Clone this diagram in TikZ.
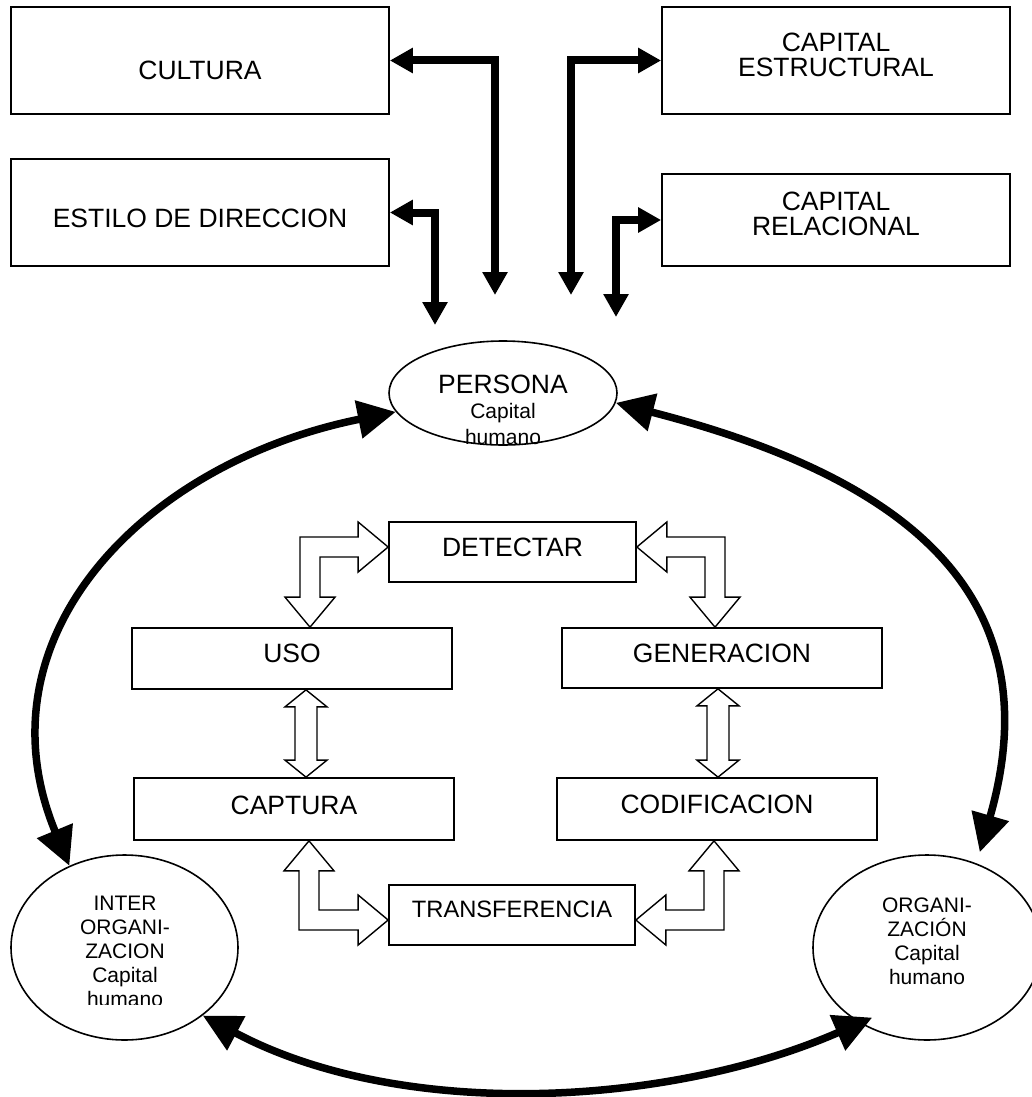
\documentclass[tikz,border=0pt]{standalone}
\usepackage{fontspec}
\setmainfont{Liberation Sans}
\usetikzlibrary{arrows.meta,calc,shapes.geometric}
\begin{document}
\begin{tikzpicture}[x=1pt,y=-1pt,
  box/.style={draw, line width=1.7pt, rectangle, inner sep=0pt, align=center, font=\fontsize{26.5}{25}\selectfont},
  ell/.style={draw, line width=1.6pt, ellipse, inner sep=0pt},
  hollow/.style={draw, fill=white, line width=1.4pt, line join=miter},
  thickarrow/.style={line width=8pt, line join=miter, {Triangle[length=23pt,width=24pt]}-{Triangle[length=23pt,width=24pt]}},
  curvearrow/.style={line width=7.5pt, {Triangle[length=38pt,width=37pt]}-{Triangle[length=38pt,width=37pt]}},
  small/.style={font=\fontsize{21}{24}\selectfont, align=center, inner sep=0pt}
]
\useasboundingbox (0,0) rectangle (1031,1097);
\fill[white] (0,0) rectangle (1031,1097);

% top boxes
\node[box, minimum width=378pt, minimum height=107pt, text height=38pt] (cultura) at (200,60.5) {CULTURA};
\node[box, minimum width=378pt, minimum height=107pt, text height=30pt] (estilo) at (200,212.5) {ESTILO DE DIRECCION};
\node[box, minimum width=348pt, minimum height=107pt, text depth=11pt] (estructural) at (836,60.5) {CAPITAL\\ESTRUCTURAL};
\node[box, minimum width=348pt, minimum height=92pt, text depth=13pt] (relacional) at (836,220) {CAPITAL\\RELACIONAL};

% thick elbow arrows
\coordinate (c1) at (495,295);
\coordinate (c2) at (435,325);
\coordinate (c3) at (571,295);
\coordinate (c4) at (616,317);
\draw[thickarrow] (cultura.east) -| (c1);
\draw[thickarrow] (estilo.east) -| (c2);
\draw[thickarrow] (c3) |- (estructural.west);
\draw[thickarrow] (c4) |- (relacional.west);

% process boxes
\node[box, minimum width=247pt, minimum height=60pt, text depth=10pt] (detectar) at (512.5,552) {DETECTAR};
\node[box, minimum width=320pt, minimum height=61pt, text depth=11pt] (uso) at (292,658.5) {USO};
\node[box, minimum width=320pt, minimum height=60pt, text depth=10pt] (generacion) at (722,658) {GENERACION};
\node[box, minimum width=320pt, minimum height=62pt, text depth=8pt] (captura) at (294,809) {CAPTURA};
\node[box, minimum width=320pt, minimum height=62pt, text depth=10pt] (codificacion) at (717,809) {CODIFICACION};
\node[box, minimum width=246pt, minimum height=60pt, text depth=12pt, font=\fontsize{23.7}{25}\selectfont] (transferencia) at (512,915) {TRANSFERENCIA};

% hollow arrows
\draw[hollow] let \p1=([yshift=5pt]detectar.west), \p2=([xshift=18pt]uso.north) in
  (\p1) -- (\x1-30pt,\y1+25pt) -- (\x1-30pt,\y1+10pt) -- (\x2-10pt,\y1+10pt) -- (\x2-10pt,\y2+30pt) -- (\x2-25pt,\y2+30pt) -- (\p2) -- (\x2+25pt,\y2+30pt) -- (\x2+10pt,\y2+30pt) -- (\x2+10pt,\y1-10pt) -- (\x1-30pt,\y1-10pt) -- (\x1-30pt,\y1-25pt) -- cycle;
\draw[hollow] let \p1=([yshift=5pt]detectar.east), \p2=([xshift=-7pt]generacion.north) in
  (\p1) -- (\x1+30pt,\y1+25pt) -- (\x1+30pt,\y1+10pt) -- (\x2+10pt,\y1+10pt) -- (\x2+10pt,\y2+30pt) -- (\x2+25pt,\y2+30pt) -- (\p2) -- (\x2-25pt,\y2+30pt) -- (\x2-10pt,\y2+30pt) -- (\x2-10pt,\y1-10pt) -- (\x1+30pt,\y1-10pt) -- (\x1+30pt,\y1-25pt) -- cycle;
\draw[hollow] let \p1=([yshift=-5pt]transferencia.west), \p2=([xshift=15pt]captura.south) in
  (\p2) -- (\x2+25pt,\y2-30pt) -- (\x2+10pt,\y2-30pt) -- (\x2+10pt,\y1+10pt) -- (\x1-30pt,\y1+10pt) -- (\x1-30pt,\y1+25pt) -- (\p1) -- (\x1-30pt,\y1-25pt) -- (\x1-30pt,\y1-10pt) -- (\x2-10pt,\y1-10pt) -- (\x2-10pt,\y2-30pt) -- (\x2-25pt,\y2-30pt) -- cycle;
\draw[hollow] let \p1=([yshift=-5pt]transferencia.east), \p2=([xshift=-3pt]codificacion.south) in
  (\p2) -- (\x2-25pt,\y2-30pt) -- (\x2-10pt,\y2-30pt) -- (\x2-10pt,\y1+10pt) -- (\x1+30pt,\y1+10pt) -- (\x1+30pt,\y1+25pt) -- (\p1) -- (\x1+30pt,\y1-25pt) -- (\x1+30pt,\y1-10pt) -- (\x2+10pt,\y1-10pt) -- (\x2+10pt,\y2-30pt) -- (\x2+25pt,\y2-30pt) -- cycle;
\draw[hollow] let \p1=([xshift=14pt]uso.south), \p2=(captura.north) in
  (\p1) -- (\x1+21pt,\y1-17pt) -- (\x1+11pt,\y1-17pt) -- (\x1+11pt,\y2+17pt) -- (\x1+21pt,\y2+17pt) -- (\x1,\y2) -- (\x1-21pt,\y2+17pt) -- (\x1-11pt,\y2+17pt) -- (\x1-11pt,\y1-17pt) -- (\x1-21pt,\y1-17pt) -- cycle;
\draw[hollow] let \p1=([xshift=-4pt]generacion.south), \p2=(codificacion.north) in
  (\p1) -- (\x1+21pt,\y1-17pt) -- (\x1+11pt,\y1-17pt) -- (\x1+11pt,\y2+17pt) -- (\x1+21pt,\y2+17pt) -- (\x1,\y2) -- (\x1-21pt,\y2+17pt) -- (\x1-11pt,\y2+17pt) -- (\x1-11pt,\y1-17pt) -- (\x1-21pt,\y1-17pt) -- cycle;

% ellipses
\node[ell, minimum width=228pt, minimum height=104pt,
  label={[small, font=\fontsize{21}{25.5}\selectfont, yshift=-16.5pt]center:{{\fontsize{26.5}{26.5}\selectfont PERSONA}\\Capital\\humano}}] (persona) at (503,393) {};
\node[ell, minimum width=227pt, minimum height=185pt] (inter) at (124.5,947.5) {};
\begin{scope}
  \clip (0,0) rectangle (1031,1004);
  \node[small] (intertext) at (125,951) {INTER\\ORGANI-\\ZACION\\Capital\\humano};
\end{scope}
\node[ell, minimum width=228pt, minimum height=185pt,
  label={[small, yshift=6.5pt]center:{ORGANI-\\ZACIÓN\\Capital\\humano}}] (org) at (927,947.5) {};

% big curved arrows
\draw[curvearrow] (inter.124) .. controls (-25,638) and (142,463) .. (persona.190);
\draw[curvearrow] (persona.355) .. controls (888,473) and (1057,584) .. ($(org.center)!1.12!(org.61)$);
\draw[curvearrow] (inter.319) .. controls (401,1121) and (668,1107) .. ($(org.center)!0.89!(org.232)$);
\end{tikzpicture}
\end{document}
